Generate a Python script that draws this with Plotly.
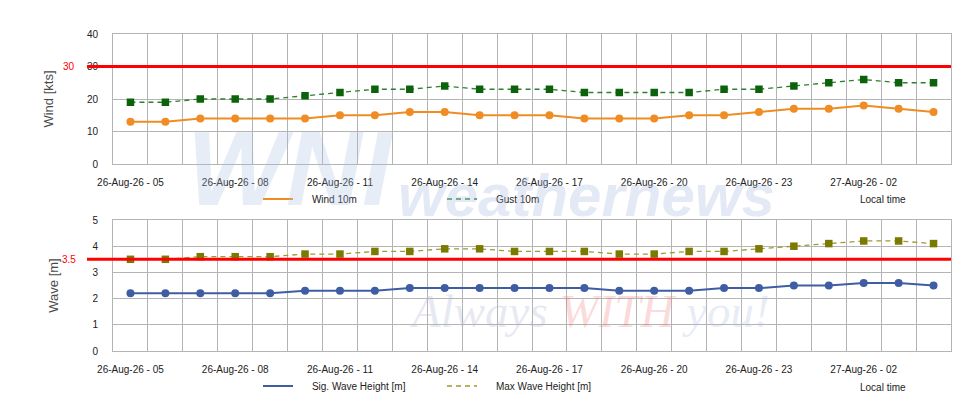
import plotly.graph_objects as go

# hourly forecast, local time
times = [
    "26-Aug-26 - 05", "26-Aug-26 - 06", "26-Aug-26 - 07", "26-Aug-26 - 08",
    "26-Aug-26 - 09", "26-Aug-26 - 10", "26-Aug-26 - 11", "26-Aug-26 - 12",
    "26-Aug-26 - 13", "26-Aug-26 - 14", "26-Aug-26 - 15", "26-Aug-26 - 16",
    "26-Aug-26 - 17", "26-Aug-26 - 18", "26-Aug-26 - 19", "26-Aug-26 - 20",
    "26-Aug-26 - 21", "26-Aug-26 - 22", "26-Aug-26 - 23", "27-Aug-26 - 00",
    "27-Aug-26 - 01", "27-Aug-26 - 02", "27-Aug-26 - 03", "27-Aug-26 - 04",
]
wind_10m = [13, 13, 14, 14, 14, 14, 15, 15, 16, 16, 15, 15,
            15, 14, 14, 14, 15, 15, 16, 17, 17, 18, 17, 16]
gust_10m = [19, 19, 20, 20, 20, 21, 22, 23, 23, 24, 23, 23,
            23, 22, 22, 22, 22, 23, 23, 24, 25, 26, 25, 25]
sig_wave = [2.2, 2.2, 2.2, 2.2, 2.2, 2.3, 2.3, 2.3, 2.4, 2.4, 2.4, 2.4,
            2.4, 2.4, 2.3, 2.3, 2.3, 2.4, 2.4, 2.5, 2.5, 2.6, 2.6, 2.5]
max_wave = [3.5, 3.5, 3.6, 3.6, 3.6, 3.7, 3.7, 3.8, 3.8, 3.9, 3.9, 3.8,
            3.8, 3.8, 3.7, 3.7, 3.8, 3.8, 3.9, 4.0, 4.1, 4.2, 4.2, 4.1]

wind_limit = 30
wave_limit = 3.5

W, H = 980, 420
PAGE_OFF = 8   # default body margin of the html page
FONT = "Liberation Sans, Arial, sans-serif"
GRID = "#b4b4b4"
NBSP = "\u00a0" * 5


def px(x):
    """page pixel (from left) -> paper fraction"""
    return (x - PAGE_OFF) / W


def py(y):
    """page pixel (from top) -> paper fraction"""
    return 1 - (y - PAGE_OFF) / H


idx = list(range(len(times)))
label_idx = idx[::3]
label_txt = [times[i] for i in label_idx]
bounds = [i - 0.5 for i in range(len(times) + 1)]

fig = go.Figure()

# --- wind panel ---
fig.add_trace(go.Scatter(
    x=idx, y=gust_10m, mode="lines+markers", xaxis="x", yaxis="y",
    line=dict(color="#2f7f2f", width=1.3, dash="5px,4px"),
    marker=dict(symbol="square", size=7.5, color="#0b620b"),
    showlegend=False, hoverinfo="skip"))
fig.add_trace(go.Scatter(
    x=idx, y=wind_10m, mode="lines+markers", xaxis="x", yaxis="y",
    line=dict(color="#f08c24", width=2),
    marker=dict(symbol="circle", size=8, color="#f08c24"),
    showlegend=False, hoverinfo="skip"))

# --- wave panel ---
fig.add_trace(go.Scatter(
    x=idx, y=max_wave, mode="lines+markers", xaxis="x2", yaxis="y2",
    line=dict(color="#9c9c2c", width=1.3, dash="5px,4px"),
    marker=dict(symbol="square", size=7.5, color="#7a7a00"),
    showlegend=False, hoverinfo="skip"))
fig.add_trace(go.Scatter(
    x=idx, y=sig_wave, mode="lines+markers", xaxis="x2", yaxis="y2",
    line=dict(color="#3f5da3", width=2),
    marker=dict(symbol="circle", size=8, color="#3f5da3"),
    showlegend=False, hoverinfo="skip"))

# legend-only entries (line symbols without markers)
legend_items = [
    ("Wind 10m", "#f08c24", "solid", 2, "legend"),
    ("Gust 10m", "#2f7f2f", "5px,4px", 1.3, "legend"),
    ("Sig. Wave Height [m]", "#3f5da3", "solid", 2, "legend2"),
    ("Max Wave Height [m]", "#9c9c2c", "5px,4px", 1.3, "legend2"),
]
for name, col, dash, w, leg in legend_items:
    fig.add_trace(go.Scatter(
        x=[None], y=[None], mode="lines", name=NBSP + name,
        line=dict(color=col, width=w, dash=dash), legend=leg,
        xaxis="x" if leg == "legend" else "x2",
        yaxis="y" if leg == "legend" else "y2"))

xaxis_common = dict(
    domain=[px(113), px(951)], range=[-0.5, len(times) - 0.5], automargin=False,
    tickmode="array", tickvals=label_idx, ticktext=label_txt,
    showgrid=False, zeroline=False, ticks="", ticklabelstandoff=9,
    showline=True, mirror=True, linecolor=GRID, linewidth=1,
    tickfont=dict(size=10, color="#222", family=FONT),
    minor=dict(tickmode="array", tickvals=bounds, showgrid=True,
               gridcolor=GRID, gridwidth=1, ticks=""),
)
yaxis_common = dict(
    zeroline=False, showgrid=True, gridcolor=GRID, gridwidth=1,
    ticks="", ticklabelstandoff=12, automargin=False,
    showline=True, mirror=True, linecolor=GRID, linewidth=1,
    tickfont=dict(size=10, color="#222", family=FONT),
)
ytitle_font = dict(size=13, color="#4a4a4a", family=FONT)
legend_common = dict(
    orientation="h", x=px(263 - 5), xanchor="left", yanchor="middle",
    entrywidth=139, entrywidthmode="pixels",
    font=dict(size=10, color="#222", family=FONT), bgcolor="rgba(0,0,0,0)")

fig.update_layout(
    width=W, height=H,
    margin=dict(l=0, r=0, t=0, b=0, autoexpand=False),
    paper_bgcolor="white", plot_bgcolor="white",
    font=dict(family=FONT, size=10, color="#222"),
    xaxis=dict(**xaxis_common, anchor="y"),
    xaxis2=dict(**xaxis_common, anchor="y2"),
    yaxis=dict(**yaxis_common, domain=[py(164), py(34)],
               range=[0, 40], dtick=10, anchor="x",
               title=dict(text="Wind [kts]", font=ytitle_font, standoff=30)),
    yaxis2=dict(**yaxis_common, domain=[py(351), py(220)],
                range=[0, 5], dtick=1, anchor="x2",
                title=dict(text="Wave [m]", font=ytitle_font, standoff=30)),
    legend=dict(**legend_common, y=py(199)),
    legend2=dict(**legend_common, y=py(386)),
)

# threshold lines, drawn slightly past the left axis
for yref, xref, val in [("y", "x domain", wind_limit), ("y2", "x2 domain", wave_limit)]:
    fig.add_shape(type="line", xref=xref, yref=yref,
                  x0=-0.031, x1=1, y0=val, y1=val,
                  line=dict(color="#ff0000", width=3))
    fig.add_annotation(x=px(69), xref="paper", y=val, yref=yref,
                       xanchor="center", yanchor="middle",
                       text=f"{val:g}", showarrow=False,
                       font=dict(size=10, color="#ff0000", family=FONT))

for ypix in (200, 387):
    fig.add_annotation(x=px(883), y=py(ypix), xref="paper", yref="paper",
                       xanchor="center", yanchor="middle",
                       text="Local time", showarrow=False,
                       font=dict(size=10, color="#222", family=FONT))

# faint watermark
fig.add_annotation(x=px(290), y=py(168), xref="paper", yref="paper",
                   xanchor="center", yanchor="middle",
                   text="<b><i>WNI</i></b>", showarrow=False,
                   font=dict(size=105, color="rgba(170,190,225,0.28)", family=FONT))
fig.add_annotation(x=px(586), y=py(196), xref="paper", yref="paper",
                   xanchor="center", yanchor="middle",
                   text="<b><i>weathernews</i></b>", showarrow=False,
                   font=dict(size=60, color="rgba(170,190,225,0.33)", family=FONT))
fig.add_annotation(
    x=px(589), y=py(311), xref="paper", yref="paper", showarrow=False,
    xanchor="center", yanchor="middle",
    text=("<i><span style='color:rgba(170,180,210,0.3)'>Always </span>"
          "<span style='color:rgba(235,110,110,0.25)'>WITH</span>"
          "<span style='color:rgba(170,190,225,0.3)'> you!</span></i>"),
    font=dict(size=47, family="Liberation Serif, Times New Roman, serif"))

fig.write_html("out.html")
